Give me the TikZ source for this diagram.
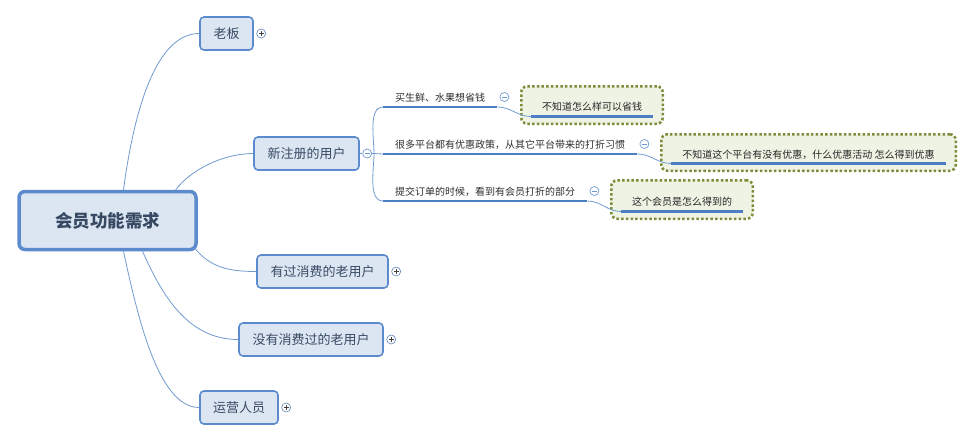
\documentclass[tikz,border=0pt]{standalone}
\usepackage{fontspec}
\setmainfont{Noto Sans CJK SC}
\usetikzlibrary{positioning}
\definecolor{TopicClr}{HTML}{5B8BCC}
\definecolor{TopicFill}{HTML}{DCE6F3}
\definecolor{TextClr}{HTML}{384A63}
\definecolor{LineClr}{HTML}{6F9AD0}
\definecolor{UnderClr}{HTML}{4C7EC6}
\definecolor{FoldClr}{HTML}{6F8FBE}
\definecolor{NoteClr}{HTML}{7B8D3A}
\definecolor{NoteFill}{HTML}{EFF3E4}

\tikzset{
  roottopic/.style={draw=TopicClr, line width=3.5pt, fill=TopicFill, rounded corners=6pt,
    minimum height=58pt, text=TextClr, font=\bfseries\fontsize{17.5}{20}\selectfont},
  topic/.style={draw=TopicClr, line width=1.6pt, fill=TopicFill, rounded corners=4pt,
    minimum height=33pt, text=TextClr, font=\fontsize{13}{15}\selectfont},
  subtopic/.style={anchor=south west, inner xsep=0pt, inner ysep=3pt, text height=8pt,
    text depth=2pt, text=black!82, font=\fontsize{10}{12}\selectfont},
  note/.style={draw=NoteClr, line width=2.5pt, dash pattern=on 2.5pt off 2.2pt,
    fill=NoteFill, rounded corners=6pt, text height=13pt, text depth=2pt,
    text=black!85, font=\fontsize{10}{12}\selectfont},
  branch/.style={draw=LineClr, line width=0.8pt},
  under/.style={draw=UnderClr, line width=2.8pt},
  fold/.style={circle, draw=FoldClr, fill=white, line width=0.7pt, minimum size=9pt, inner sep=0pt},
  foldplus/.style={fold, path picture={
    \draw[line width=0.7pt, black!75]
      ([xshift=-2.4pt]path picture bounding box.center) -- ([xshift=2.4pt]path picture bounding box.center)
      ([yshift=-2.4pt]path picture bounding box.center) -- ([yshift=2.4pt]path picture bounding box.center);}},
  foldminus/.style={fold, draw=LineClr, path picture={
    \draw[line width=0.7pt, LineClr]
      ([xshift=-2.4pt]path picture bounding box.center) -- ([xshift=2.4pt]path picture bounding box.center);}},
}

\begin{document}
\begin{tikzpicture}[x=1pt,y=-1pt]
\useasboundingbox (0,0) rectangle (974,442);

% central topic
\node[roottopic, minimum width=177pt] (root) at (107.5,220.5) {会员功能需求};

% main topics
\node[topic, minimum width=53pt]  (boss) at (226.5,33.5)  {老板};
\node[topic, minimum width=105pt] (reg)  at (306.5,153.5) {新注册的用户};
\node[topic, minimum width=131pt] (old1) at (322.5,271.5) {有过消费的老用户};
\node[topic, minimum width=144pt] (old2) at (311,339.5)   {没有消费过的老用户};
\node[topic, minimum width=78pt]  (ops)  at (239,407.5)   {运营人员};

\node[foldplus,  right=2.5pt of boss] (bossfold) {};
\node[foldminus, right=2.5pt of reg]  (regfold)  {};
\node[foldplus,  right=2.5pt of old1] (old1fold) {};
\node[foldplus,  right=2.5pt of old2] (old2fold) {};
\node[foldplus,  right=2.5pt of ops]  (opsfold)  {};

\draw[branch] ([xshift=16pt]root.north) .. controls +(12,-90) and +(-40,0) .. (boss.west);
\draw[branch] ([xshift=-22pt]root.north east) .. controls +(15,-20) and +(-30,0) .. (reg.west);
\draw[branch] ([shift={(-3pt,3pt)}]root.south east) .. controls +(15,18) and +(-30,0) .. (old1.west);
\draw[branch] ([xshift=35pt]root.south) .. controls +(20,45) and +(-50,0) .. (old2.west);
\draw[branch] ([xshift=16pt]root.south) .. controls +(15,70) and +(-40,0) .. (ops.west);

% subtopics of reg
\node[subtopic, minimum width=114pt] (s1) at (383,107) {买生鲜、水果想省钱};
\node[subtopic, minimum width=254pt] (s2) at (383,154) {很多平台都有优惠政策，从其它平台带来的打折习惯};
\node[subtopic, minimum width=204pt] (s3) at (383,201) {提交订单的时候，看到有会员打折的部分};
\draw[under] (s1.south west) -- (s1.south east);
\draw[under] (s2.south west) -- (s2.south east);
\draw[under] (s3.south west) -- (s3.south east);

\coordinate (split) at ([xshift=2pt]regfold.east);
\draw[branch] (reg.east) -- (regfold.west);
\draw[branch] (regfold.east) -- (split) to[out=90,in=180,looseness=0.8] (s1.south west);
\draw[branch] (split) -- (s2.south west);
\draw[branch] (split) to[out=-90,in=180,looseness=0.8] (s3.south west);

\node[foldminus] (s1fold) at ([shift={(7pt,10pt)}]s1.south east) {};
\node[foldminus] (s2fold) at ([shift={(7pt,10pt)}]s2.south east) {};
\node[foldminus] (s3fold) at ([shift={(7pt,10pt)}]s3.south east) {};

% notes
\node[note, minimum width=141.5pt, minimum height=37.5pt] (note1) at (592,105)   {不知道怎么样可以省钱};
\node[note, minimum width=294.5pt, minimum height=36.5pt] (note2) at (808.5,152.5) {不知道这个平台有没有优惠，什么优惠活动 怎么得到优惠};
\node[note, minimum width=141.5pt, minimum height=38.5pt] (note3) at (682,199.5) {这个会员是怎么得到的};

\coordinate (n1l) at ([shift={(11pt,8.5pt)}]note1.south west);
\coordinate (n1r) at ([shift={(-11pt,8.5pt)}]note1.south east);
\coordinate (n2l) at ([shift={(11pt,8.5pt)}]note2.south west);
\coordinate (n2r) at ([shift={(-11pt,8.5pt)}]note2.south east);
\coordinate (n3l) at ([shift={(11pt,8.5pt)}]note3.south west);
\coordinate (n3r) at ([shift={(-11pt,8.5pt)}]note3.south east);
\draw[under] (n1l) -- (n1r);
\draw[under] (n2l) -- (n2r);
\draw[under] (n3l) -- (n3r);

\draw[branch] (s1.south east) to[out=0,in=180] (n1l);
\draw[branch] (s2.south east) to[out=0,in=180] (n2l);
\draw[branch] (s3.south east) to[out=0,in=180] (n3l);

\end{tikzpicture}
\end{document}
